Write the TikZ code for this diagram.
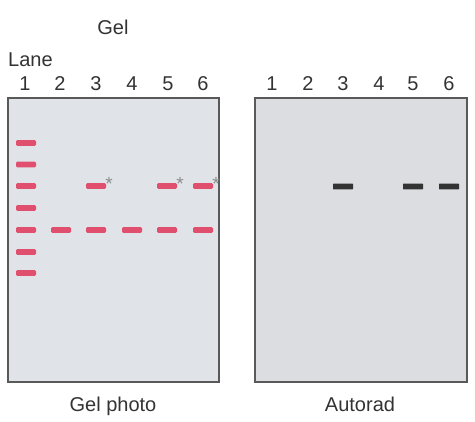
\documentclass[tikz,border=0pt]{standalone}
\usepackage{fontspec}
\setmainfont{Liberation Sans}
\begin{document}
\begin{tikzpicture}[x=1pt,y=-1pt,
  txt/.style={text=black!80, font=\fontsize{20}{23}\selectfont, inner sep=0pt, anchor=base},
  gelbox/.style={draw=black!65, line width=1.2pt},
  pinkband/.style={fill=bandpink, rounded corners=1.2pt},
  darkband/.style={fill=black!80, rounded corners=0.5pt},
  starmark/.style={text=black!45, font=\fontsize{19}{19}\selectfont, inner sep=0pt, anchor=base}
]
\definecolor{bandpink}{HTML}{E0506E}
\useasboundingbox (0,0) rectangle (475,422);
% boxes
\path[gelbox, fill={rgb,255:red,224;green,228;blue,233}] (8,98) rectangle (219,382);
\path[gelbox, fill={rgb,255:red,220;green,221;blue,224}] (255,98) rectangle (467,382);
% titles
\node[txt] (gel) at (113,35) {Gel};
\node[txt, anchor=base west] (lane) at (8,67) {Lane};
\foreach \i/\x in {1/25,2/60,3/96,4/132,5/168,6/203}{
  \node[txt] (l\i) at (\x,91) {\i};
}
\foreach \i/\x in {1/272,2/308,3/343,4/379,5/413,6/449}{
  \node[txt] (r\i) at (\x,91) {\i};
}
\node[txt] (gp) at (113,412) {Gel photo};
\node[txt] (ar) at (360,412) {Autorad};
% lane 1 ladder
\foreach \y in {143,164.5,186,208,230,252,273}{
  \path[pinkband] (16,\y-2.9) rectangle (36,\y+2.9);
}
% common band
\foreach \x in {61,96,132,167,203}{
  \path[pinkband] (\x-10,230-2.9) rectangle (\x+10,230+2.9);
}
% upper bands with stars
\foreach \x in {96,167,203}{
  \path[pinkband] (\x-10,186-2.9) rectangle (\x+10,186+2.9);
  \node[starmark] at (\x+13,191) {*};
}
% autorad bands
\foreach \x in {343,413,449}{
  \path[darkband] (\x-10,186.5-2.8) rectangle (\x+10,186.5+2.8);
}
\end{tikzpicture}
\end{document}
